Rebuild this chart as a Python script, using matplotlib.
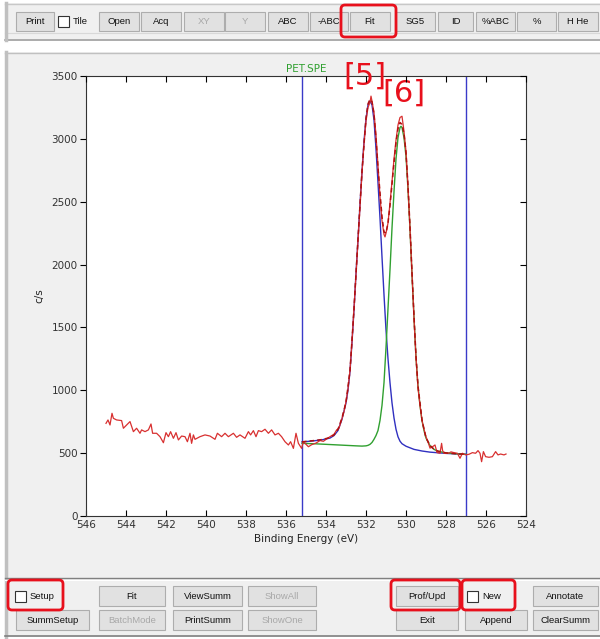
import matplotlib
matplotlib.use("Agg")
import matplotlib.pyplot as plt
from matplotlib.patches import Rectangle, FancyBboxPatch

# ---------------- data ----------------
data_be = [545.0, 544.9, 544.8, 544.7, 544.63, 544.47, 544.22, 544.13, 543.97, 543.8,
           543.63, 543.47, 543.3, 543.22, 543.05, 542.88, 542.75, 542.67, 542.47, 542.3,
           542.13, 542.0, 541.88, 541.77, 541.63, 541.5, 541.38, 541.22, 541.05, 540.93,
           540.8, 540.72, 540.63, 540.55, 540.3, 540.05, 539.8, 539.55, 539.43, 539.22,
           539.05, 538.88, 538.63, 538.47, 538.3, 538.05, 537.88, 537.77, 537.63, 537.5,
           537.38, 537.22, 537.05, 536.88, 536.72, 536.55, 536.38, 536.22, 536.05, 535.88,
           535.77, 535.63, 535.5, 535.38, 535.22, 535.13, 534.88, 534.72, 534.5, 534.3,
           534.13, 533.95, 533.8, 533.6, 533.47, 533.35, 533.22, 533.1, 533.0, 532.9,
           532.8, 532.7, 532.6, 532.5, 532.4, 532.3, 532.2, 532.1, 532.0, 531.9,
           531.8, 531.75, 531.7, 531.6, 531.5, 531.4, 531.3, 531.2, 531.1, 531.05,
           531.0, 530.9, 530.8, 530.7, 530.6, 530.5, 530.4, 530.3, 530.2, 530.1,
           530.0, 529.9, 529.8, 529.7, 529.6, 529.5, 529.4, 529.3, 529.2, 529.1,
           529.0, 528.9, 528.8, 528.7, 528.55, 528.45, 528.3, 528.22, 528.17, 528.1,
           527.87, 527.75, 527.6, 527.43, 527.3, 527.18, 527.02, 526.85, 526.68, 526.52,
           526.4, 526.3, 526.22, 526.13, 526.02, 525.85, 525.68, 525.52, 525.4, 525.27,
           525.1, 525.0]
data_cps = [737, 764, 724, 817, 777, 764, 759, 698, 724, 751,
            671, 698, 658, 685, 671, 685, 732, 658, 658, 631,
            583, 663, 631, 671, 618, 663, 605, 636, 631, 591,
            658, 578, 645, 610, 631, 645, 636, 610, 658, 631,
            658, 631, 658, 626, 645, 618, 671, 645, 679, 631,
            679, 671, 690, 658, 685, 645, 658, 631, 591, 565,
            591, 538, 658, 578, 538, 591, 551, 567, 580, 600,
            594, 615, 631, 650, 684, 700, 764, 830, 910, 1010,
            1160, 1390, 1650, 1920, 2190, 2470, 2730, 2960, 3140, 3250,
            3290, 3340, 3300, 3210, 3030, 2780, 2540, 2350, 2240, 2220,
            2250, 2330, 2490, 2660, 2840, 2990, 3110, 3170, 3180, 3060,
            2900, 2620, 2290, 1930, 1570, 1260, 1020, 880, 760, 690,
            630, 590, 540, 548, 565, 505, 499, 578, 520, 499,
            499, 510, 504, 499, 459, 499, 486, 491, 504, 499,
            520, 499, 432, 512, 472, 467, 472, 512, 486, 493,
            486, 493]

comp5_be = [535.2, 535.0, 534.6, 534.2, 533.8, 533.6, 533.4, 533.2, 533.0, 532.9,
            532.8, 532.7, 532.6, 532.5, 532.4, 532.3, 532.2, 532.1, 532.0, 531.9,
            531.8, 531.7, 531.6, 531.5, 531.4, 531.3, 531.2, 531.1, 531.0, 530.9,
            530.8, 530.7, 530.6, 530.5, 530.4, 530.3, 530.2, 530.0, 529.6, 529.2,
            528.8, 528.4, 528.0, 527.5, 527.0]
comp5_cps = [590, 592, 598, 606, 620, 640, 680, 770, 900, 1000,
             1150, 1380, 1640, 1930, 2200, 2480, 2740, 2980, 3160, 3270,
             3300, 3270, 3150, 2920, 2650, 2370, 2060, 1760, 1480, 1250,
             1060, 900, 780, 690, 630, 595, 575, 555, 530, 517,
             508, 503, 498, 494, 491]

comp6_be = [535.2, 535.0, 534.5, 534.0, 533.5, 533.0, 532.5, 532.2, 532.0, 531.9,
            531.8, 531.7, 531.6, 531.5, 531.4, 531.3, 531.2, 531.1, 531.0, 530.9,
            530.8, 530.7, 530.6, 530.5, 530.4, 530.3, 530.25, 530.2, 530.1, 530.0,
            529.9, 529.8, 529.7, 529.6, 529.5, 529.4, 529.3, 529.2, 529.1, 529.0,
            528.8, 528.6, 528.4, 528.0, 527.5, 527.0]
comp6_cps = [578, 577, 574, 570, 566, 562, 558, 556, 558, 562,
             570, 585, 610, 640, 680, 760, 880, 1060, 1340, 1650,
             1960, 2290, 2580, 2840, 3010, 3090, 3100, 3090, 3010, 2860,
             2600, 2280, 1920, 1580, 1260, 1030, 880, 760, 680, 620,
             560, 530, 515, 502, 495, 491]

env_be = [535.2, 534.6, 534.2, 533.8, 533.6, 533.4, 533.2, 533.0, 532.8, 532.6,
          532.4, 532.2, 532.0, 531.9, 531.8, 531.7, 531.6, 531.5, 531.4, 531.3,
          531.2, 531.1, 531.0, 530.9, 530.8, 530.7, 530.6, 530.5, 530.4, 530.3,
          530.2, 530.1, 530.0, 529.9, 529.8, 529.7, 529.6, 529.5, 529.4, 529.2,
          529.0, 528.8, 528.6, 528.4, 528.0, 527.5, 527.0]
env_cps = [590, 600, 608, 624, 645, 690, 780, 905, 1155, 1645,
           2205, 2745, 3165, 3278, 3315, 3295, 3195, 3000, 2770, 2570,
           2380, 2260, 2250, 2330, 2470, 2640, 2810, 2970, 3080, 3130,
           3115, 3040, 2890, 2625, 2300, 1935, 1590, 1268, 1035, 763,
           622, 561, 531, 516, 502, 495, 491]

region_bounds = [535.18, 527.02]
x_ticks = [546, 544, 542, 540, 538, 536, 534, 532, 530, 528, 526, 524]
y_ticks = [0, 500, 1000, 1500, 2000, 2500, 3000, 3500]
peak_labels = ["[5]", "[6]"]
peak_label_pos = [(533.15, 3380), (531.2, 3250)]

top_buttons = ["Print", "Open", "Acq", "XY", "Y", "ABC", "-ABC", "Fit", "SG5", "ID", "%ABC", "%", "H He"]
top_disabled = ["XY", "Y"]
bottom_row1 = ["Fit", "ViewSumm", "ShowAll", "Prof/Upd", "Annotate"]
bottom_row2 = ["SummSetup", "BatchMode", "PrintSumm", "ShowOne", "Exit", "Append", "ClearSumm"]
bottom_disabled = ["ShowAll", "BatchMode", "ShowOne"]

# ---------------- figure ----------------
W, H = 600, 639
fig = plt.figure(figsize=(W / 100, H / 100), dpi=100, facecolor="white")

ui = fig.add_axes([0, 0, 1, 1])
ui.set_xlim(0, W)
ui.set_ylim(H, 0)
ui.axis("off")
ui.set_zorder(0)

GREY = "#f0f0f0"
BTN_FACE = "#e1e1e1"
BTN_EDGE = "#adadad"
UIFONT = "Liberation Sans"

# panels
ui.add_patch(Rectangle((5, 3), 595, 38, facecolor=GREY, edgecolor="none"))
ui.plot([5, 600], [3.5, 3.5], color="#c8c8c8", lw=1)
ui.plot([5, 600], [33, 33], color="#d8d8d8", lw=0.8)
ui.plot([5, 600], [40, 40], color="#a0a0a0", lw=1.2)
ui.plot([6, 6], [3, 40], color="#c0c0c0", lw=2.5)
ui.add_patch(Rectangle((5, 52), 595, 585, facecolor=GREY, edgecolor="none"))
ui.plot([5, 600], [52.5, 52.5], color="#c0c0c0", lw=1)
ui.plot([6, 6], [52, 637], color="#c0c0c0", lw=2.5)
ui.plot([5, 600], [578, 578], color="#808080", lw=1)
ui.plot([5, 600], [579.5, 579.5], color="white", lw=0.8)
ui.plot([5, 600], [636, 636], color="#808080", lw=1.2)


def button(x0, x1, y0, y1, label, disabled=False):
    ui.add_patch(Rectangle((x0, y0), x1 - x0, y1 - y0, facecolor=BTN_FACE,
                           edgecolor=BTN_EDGE, lw=0.8))
    ui.text((x0 + x1) / 2, (y0 + y1) / 2 + 0.5, label, ha="center", va="center",
            fontsize=6.8, family=UIFONT,
            color="#a8a8a8" if disabled else "#111111")


def checkbox(x, y, label):
    ui.add_patch(Rectangle((x, y - 5.5), 11, 11, facecolor="white",
                           edgecolor="#333333", lw=0.8))
    ui.text(x + 15, y + 0.5, label, ha="left", va="center", fontsize=6.8,
            family=UIFONT, color="#111111")


def redbox(x0, x1, y0, y1):
    ui.add_patch(FancyBboxPatch((x0, y0), x1 - x0, y1 - y0,
                                boxstyle="round,pad=0,rounding_size=4",
                                facecolor="none", edgecolor="#e8101c", lw=2.0, zorder=5))


# top toolbar
top_x = [(16, 54), (99, 139), (141, 181), (184, 224), (225, 265), (268, 308),
         (310, 348), (350, 390), (396, 435), (438, 473), (476, 515), (517, 556), (558, 598)]
for (x0, x1), lab in zip(top_x, top_buttons):
    button(x0, x1, 12, 31, lab, lab in top_disabled)
checkbox(58, 21.5, "Tile")
redbox(341, 396, 5, 37)

# bottom buttons
r1 = (586, 606)
r2 = (610, 630)
row1_x = [(99, 165), (173, 242), (248, 316), (396, 458), (533, 598)]
row2_x = [(16, 89), (99, 165), (173, 242), (248, 316), (396, 458), (465, 527), (533, 598)]
for (x0, x1), lab in zip(row1_x, bottom_row1):
    button(x0, x1, r1[0], r1[1], lab, lab in bottom_disabled)
for (x0, x1), lab in zip(row2_x, bottom_row2):
    button(x0, x1, r2[0], r2[1], lab, lab in bottom_disabled)
checkbox(15, 596, "Setup")
checkbox(467, 596, "New")
redbox(8, 63, 580, 610)
redbox(391, 460, 580, 610)
redbox(462, 515, 580, 610)

# ---------------- chart ----------------
L, R, T, B = 86, 526, 76, 516
ax = fig.add_axes([L / W, (H - B) / H, (R - L) / W, (B - T) / H])
ax.set_zorder(2)
ax.set_facecolor("white")
ax.set_xlim(546, 524)
ax.set_ylim(0, 3500)

for xb in region_bounds:
    ax.axvline(xb, color="#3a3ac8", lw=1.0, zorder=2)

ax.plot(comp5_be, comp5_cps, color="#3030c0", lw=1.0, zorder=3)
ax.plot(comp6_be, comp6_cps, color="#30a030", lw=1.0, zorder=3)
ax.plot(data_be, data_cps, color="#d83030", lw=0.9, zorder=4)
ax.plot(env_be, env_cps, color="#b01010", lw=1.1, ls=(0, (3, 2)), zorder=5)

ax.set_xticks(x_ticks)
ax.set_yticks(y_ticks)
ax.tick_params(axis="x", direction="in", length=4, labelsize=7.5,
               labelcolor="#333333", pad=3)
ax.tick_params(axis="y", direction="out", length=4, labelsize=7.5,
               labelcolor="#333333", pad=2)
for sp in ax.spines.values():
    sp.set_color("#333333")
    sp.set_linewidth(0.8)

axr = ax.twinx()
axr.set_ylim(0, 3500)
axr.set_yticks(y_ticks)
axr.tick_params(direction="in", length=4, labelright=False)
axt = ax.twiny()
axt.set_xlim(546, 524)
axt.set_xticks(x_ticks)
axt.tick_params(direction="in", length=4, labeltop=False)
for a in (axr, axt):
    for sp in a.spines.values():
        sp.set_visible(False)

ax.set_xlabel("Binding Energy (eV)", fontsize=7.5, color="#222222", labelpad=3)
ax.set_ylabel("c/s", fontsize=7.5, color="#222222", labelpad=5)
ax.set_title("PET.SPE", fontsize=7.5, color="#30a030", pad=3)

for lab, (xb, yb) in zip(peak_labels, peak_label_pos):
    ax.text(xb, yb, lab, fontsize=22, color="#e8101c", ha="left", va="bottom",
            family="DejaVu Sans", clip_on=False, zorder=6)

fig.savefig("out.png", dpi=100, facecolor="white")
